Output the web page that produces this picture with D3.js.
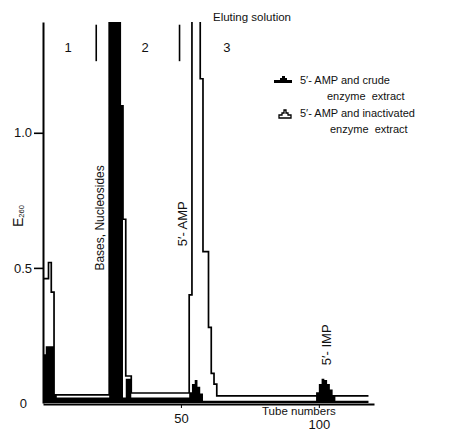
<!DOCTYPE html>
<html>
<head>
<meta charset="utf-8">
<script src="https://cdn.jsdelivr.net/npm/d3@7"></script>
<style>
  body { margin: 0; background: #fff; }
  text { font-family: "Liberation Sans", Arial, sans-serif; fill: #111; }
</style>
</head>
<body>
<script>
// each value is held from its tube number up to the next tube number (step plot)
// values above 1.41 run off the top of the chart
const crudeTubes = [0, 1, 4, 5, 24, 28, 29, 30, 32, 53, 54, 55, 56, 57, 58, 99, 100, 101, 102, 103, 104, 105, 106, 118];
const crudeE260 = [0.18, 0.21, 0.03, 0.02, 1.6, 1.1, 0.02, 0.09, 0.02, 0.04, 0.07, 0.085, 0.06, 0.035, 0.008, 0.04, 0.07, 0.09, 0.085, 0.07, 0.05, 0.03, 0.008, 0.008];

const inactTubes = [0, 2, 3, 4, 24, 28, 29, 30, 32, 53, 54, 57, 58, 60, 61, 62, 63, 118];
const inactE260 = [0.46, 0.52, 0.41, 0.03, 1.6, 1.1, 0.68, 0.1, 0.037, 0.4, 1.6, 1.2, 0.56, 0.28, 0.11, 0.07, 0.026, 0.026];

const sectionEdges = [19.3, 49.5];
const sectionNames = ['1', '2', '3'];
const sectionAt = [9.1, 37, 66.7];

const peakNames = ['Bases, Nucleosides', '5\u2032- AMP', '5\u2032- IMP'];
const peakAt = [22.2, 52.2, 104.5];
const peakBase = [0.49, 0.58, 0.14];

const yTicks = [0, 0.5, 1.0];
const xTicks = [50, 100];

const width = 464;
const height = 433;

const x = d3.scaleLinear().domain([0, 120]).range([43, 374]);
const y = d3.scaleLinear().domain([0, 1.41]).range([403, 22]);

const svg = d3.select('body').append('svg')
  .attr('width', width)
  .attr('height', height);

svg.append('clipPath')
  .attr('id', 'plot')
  .append('rect')
  .attr('x', 0)
  .attr('y', y(1.41))
  .attr('width', width)
  .attr('height', y(0) - y(1.41) + 10);

const crude = crudeTubes.map((t, i) => ({ t, v: crudeE260[i] }));
const inact = inactTubes.map((t, i) => ({ t, v: inactE260[i] }));

const marks = svg.append('g').attr('clip-path', 'url(#plot)');

// crude extract: filled black
marks.append('path')
  .datum(crude)
  .attr('fill', '#000')
  .attr('d', d3.area()
    .curve(d3.curveStepAfter)
    .x(d => x(d.t))
    .y0(y(0))
    .y1(d => y(d.v)));

// inactivated extract: outline
marks.append('path')
  .datum(inact)
  .attr('fill', 'none')
  .attr('stroke', '#000')
  .attr('stroke-width', 1.7)
  .attr('d', d3.line()
    .curve(d3.curveStepAfter)
    .x(d => x(d.t))
    .y(d => y(d.v)));

// axes
const xAxis = svg.append('g')
  .attr('transform', `translate(0,${y(0) + 1})`)
  .call(d3.axisBottom(x).tickValues(xTicks).tickSize(4).tickSizeOuter(0).tickPadding(6));
xAxis.select('.domain').attr('stroke-width', 2.2);
xAxis.selectAll('.tick text')
  .attr('font-size', 13)
  .attr('dy', d => (d === 100 ? '1.12em' : '0.71em'));

const yAxis = svg.append('g')
  .attr('transform', `translate(${x(0)},0)`)
  .call(d3.axisLeft(y).tickValues(yTicks).tickSize(9).tickSizeOuter(0)
    .tickFormat(d => (d === 0 ? '0' : d3.format('.1f')(d))));
yAxis.select('.domain').attr('stroke-width', 2);
yAxis.selectAll('.tick line').attr('stroke-width', 1.6)
  .filter(d => d === 0).remove();
yAxis.selectAll('.tick text')
  .attr('font-size', 13)
  .attr('x', d => (d === 0 ? -16 : -11));

svg.append('text')
  .attr('x', 262)
  .attr('y', 415)
  .attr('font-size', 11.5)
  .text('Tube numbers');

const eLabel = svg.append('text')
  .attr('transform', 'translate(23,227) rotate(-90)')
  .attr('font-size', 14);
eLabel.append('tspan').text('E');
eLabel.append('tspan').attr('font-size', 7.5).attr('dy', 1).text('260');

// fraction sections
svg.append('g')
  .selectAll('line')
  .data(sectionEdges)
  .join('line')
  .attr('x1', d => x(d))
  .attr('x2', d => x(d))
  .attr('y1', y(1.4))
  .attr('y2', y(1.265))
  .attr('stroke', '#000')
  .attr('stroke-width', 1.6);

svg.append('g')
  .selectAll('text')
  .data(sectionNames)
  .join('text')
  .attr('x', (d, i) => x(sectionAt[i]))
  .attr('y', y(1.3))
  .attr('text-anchor', 'middle')
  .attr('font-size', 13)
  .text(d => d);

svg.append('text')
  .attr('x', 213)
  .attr('y', 21)
  .attr('font-size', 11.5)
  .text('Eluting solution');

// peak names, rotated
svg.append('g')
  .selectAll('text')
  .data(peakNames)
  .join('text')
  .attr('transform', (d, i) => `translate(${x(peakAt[i])},${y(peakBase[i])}) rotate(-90)`)
  .attr('font-size', (d, i) => (i === 0 ? 12 : 13))
  .text(d => d);

// legend
const legend = svg.append('g').attr('font-size', 11);
const mound = [[-9, 3], [-9, 0], [-3, 0], [-3, -2], [-1, -2], [-1, -4], [2, -4], [2, -2], [4, -2], [4, 0], [9, 0], [9, 3]];
const hill = [[-6, 4], [-6, 1], [-3, 1], [-3, -1], [-1, -1], [-1, -4], [1, -4], [1, -1], [3, -1], [3, 1], [6, 1], [6, 4]];

legend.append('path')
  .attr('transform', 'translate(283,80)')
  .attr('fill', '#000')
  .attr('d', d3.line()(mound) + 'Z');
legend.append('path')
  .attr('transform', 'translate(285,114)')
  .attr('fill', 'none')
  .attr('stroke', '#000')
  .attr('stroke-width', 1.3)
  .attr('d', d3.line()(hill) + 'Z');

const legendLines = [
  ['5\u2032- AMP and crude', 300, 84],
  ['enzyme  extract', 327, 100],
  ['5\u2032- AMP and inactivated', 300, 117],
  ['enzyme  extract', 330, 133],
];
legend.selectAll('text')
  .data(legendLines)
  .join('text')
  .attr('x', d => d[1])
  .attr('y', d => d[2])
  .attr('xml:space', 'preserve')
  .text(d => d[0]);
</script>
</body>
</html>
